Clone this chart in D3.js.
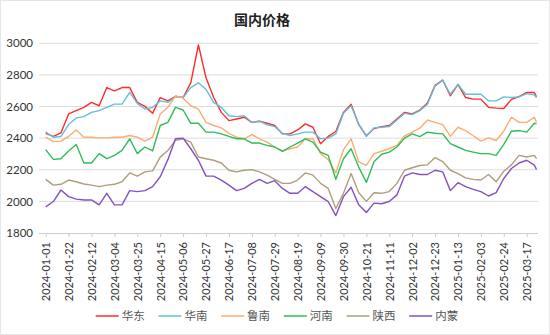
<!DOCTYPE html>
<html>
<head>
<meta charset="utf-8">
<script src="https://cdn.jsdelivr.net/npm/d3@7/dist/d3.min.js"></script>
<style>
  html, body { margin: 0; padding: 0; background: #fff; }
  svg { display: block; }
</style>
</head>
<body>
<svg id="chart" width="550" height="335"></svg>
<script>
// Weekly price observations (元/吨), first week starting 2024-01-01, last point 2025-03-26
const startDate = "2024-01-01";
const lastDate = "2025-03-26";
const weekCount = 65;

const seriesNames = ["华东", "华南", "鲁南", "河南", "陕西", "内蒙"];
const seriesColors = ["#ff2b2b", "#62bfdc", "#fbac74", "#2ebd59", "#ae9e7c", "#8450c4"];

const huadong = [2430, 2411, 2434, 2553, 2574, 2595, 2626, 2605, 2720, 2699, 2720, 2720, 2626, 2601, 2557, 2657, 2636,
  2664, 2657, 2750, 2990, 2782, 2657, 2563, 2511, 2521, 2532, 2500, 2507, 2494, 2480, 2427,
  2427, 2452, 2490, 2469, 2365, 2411, 2442, 2563, 2615, 2486, 2415, 2461, 2473, 2480, 2521, 2563, 2553,
  2578, 2622, 2734, 2768, 2668, 2740, 2657, 2647, 2647, 2595, 2590, 2588, 2645, 2663, 2689, 2689, 2661];
const huanan = [2440, 2406, 2411, 2486, 2528, 2536, 2563, 2574, 2595, 2615, 2615, 2689, 2620, 2584, 2595, 2636, 2626,
  2661, 2657, 2720, 2750, 2709, 2626, 2595, 2542, 2536, 2542, 2500, 2507, 2484, 2473, 2431,
  2417, 2427, 2438, 2438, 2396, 2400, 2427, 2557, 2605, 2490, 2411, 2465, 2469, 2473, 2515, 2557, 2549,
  2574, 2615, 2730, 2765, 2678, 2740, 2678, 2678, 2678, 2636, 2636, 2661, 2657, 2661, 2682, 2674, 2657];
const lunan = [2406, 2378, 2381, 2411, 2452, 2406, 2406, 2402, 2402, 2406, 2406, 2417, 2406, 2381, 2406, 2553, 2595,
  2668, 2653, 2605, 2584, 2500, 2480, 2465, 2431, 2406, 2396, 2423, 2396, 2375, 2344, 2319,
  2333, 2344, 2396, 2396, 2302, 2264, 2180, 2327, 2396, 2250, 2228, 2302, 2317, 2333, 2354, 2415, 2438,
  2463, 2515, 2500, 2486, 2411, 2469, 2448, 2415, 2381, 2402, 2385, 2444, 2532, 2500, 2500, 2532, 2500];
const henan = [2327, 2266, 2270, 2319, 2360, 2243, 2243, 2302, 2270, 2291, 2323, 2396, 2302, 2344, 2319, 2480, 2500,
  2595, 2578, 2494, 2494, 2438, 2438, 2427, 2411, 2396, 2396, 2369, 2369, 2354, 2344, 2317,
  2344, 2369, 2396, 2375, 2312, 2291, 2140, 2270, 2333, 2217, 2120, 2250, 2298, 2312, 2344, 2400, 2427,
  2410, 2438, 2431, 2427, 2365, 2344, 2323, 2312, 2302, 2302, 2291, 2360, 2444, 2448, 2438, 2494, 2490];
const shaanxi = [2139, 2103, 2108, 2135, 2124, 2110, 2103, 2093, 2103, 2108, 2124, 2180, 2160, 2187, 2193, 2280, 2322,
  2386, 2396, 2375, 2281, 2270, 2260, 2243, 2197, 2187, 2197, 2201, 2187, 2166, 2139, 2114,
  2114, 2135, 2180, 2166, 2114, 2082, 1955, 2051, 2176, 2055, 2000, 2055, 2051, 2062, 2114, 2197, 2213,
  2227, 2231, 2277, 2252, 2197, 2176, 2149, 2139, 2135, 2170, 2124, 2191, 2231, 2291, 2281, 2291, 2270];
const neimeng = [1965, 1999, 2072, 2030, 2014, 2009, 2009, 1978, 2051, 1978, 1978, 2068, 2062, 2068, 2093, 2156, 2264,
  2396, 2400, 2333, 2260, 2160, 2160, 2135, 2103, 2068, 2082, 2114, 2139, 2114, 2131, 2082,
  2051, 2051, 2093, 2062, 2030, 1999, 1910, 2030, 2089, 1978, 1930, 1989, 1985, 1999, 2041, 2160, 2180,
  2170, 2170, 2197, 2187, 2068, 2118, 2093, 2076, 2062, 2034, 2055, 2145, 2208, 2243, 2260, 2229, 2202];

const yTicks = [1800, 2000, 2200, 2400, 2600, 2800, 3000];
const xTickLabels = ["2024-01-01", "2024-01-22", "2024-02-12", "2024-03-04", "2024-03-25", "2024-04-15",
  "2024-05-06", "2024-05-27", "2024-06-17", "2024-07-08", "2024-07-29", "2024-08-19", "2024-09-09",
  "2024-09-30", "2024-10-21", "2024-11-11", "2024-12-02", "2024-12-23", "2025-01-13", "2025-02-03",
  "2025-02-24", "2025-03-17"];

const parse = d3.utcParse("%Y-%m-%d");
const fmt = d3.utcFormat("%Y-%m-%d");
const start = parse(startDate);
const dates = d3.range(weekCount).map(k => d3.utcDay.offset(start, 7 * k)).concat([parse(lastDate)]);
const allSeries = [huadong, huanan, lunan, henan, shaanxi, neimeng];

const svg = d3.select("#chart");
const W = 550, H = 335;

// outer frame
svg.append("rect").attr("x", 0.5).attr("y", 0.5).attr("width", W - 1).attr("height", H - 1)
  .attr("fill", "#fff").attr("stroke", "#e6e6e6");

const x = d3.scaleUtc()
  .domain([parse(xTickLabels[0]), parse(xTickLabels[xTickLabels.length - 1])])
  .range([45.7, 526.7]);
const y = d3.scaleLinear().domain([1800, 3000]).range([233, 43.3]);
const plotLeft = 39, plotRight = 538;

// title
svg.append("text").attr("x", 262).attr("y", 25).attr("text-anchor", "middle")
  .attr("font-family", "'Noto Sans CJK SC', sans-serif").attr("font-size", 14).attr("font-weight", "bold")
  .attr("fill", "#222").text("国内价格");

// horizontal grid
svg.append("g").selectAll("line").data(yTicks.filter(v => v > 1800)).join("line")
  .attr("x1", plotLeft).attr("x2", plotRight)
  .attr("y1", d => y(d)).attr("y2", d => y(d))
  .attr("stroke", "#dcdcdc").attr("stroke-width", 1);

// y axis labels
const yAxis = d3.axisLeft(y).tickValues(yTicks).tickFormat(d3.format("d")).tickSize(0).tickPadding(6);
const gy = svg.append("g").attr("transform", `translate(${plotLeft},0)`).call(yAxis);
gy.select(".domain").remove();
gy.selectAll("text").attr("font-family", "Lato, sans-serif").attr("font-size", 11.5).attr("fill", "#333");

// x axis
const xAxis = d3.axisBottom(x).tickValues(xTickLabels.map(parse)).tickFormat(fmt).tickSize(4).tickSizeOuter(0);
const gx = svg.append("g").attr("transform", `translate(0,${y(1800)})`).call(xAxis);
gx.select(".domain").attr("d", `M${plotLeft},0.5H${plotRight}`).attr("stroke", "#ccc");
gx.selectAll(".tick line").attr("stroke", "#ccc");
gx.selectAll("text")
  .attr("font-family", "Lato, sans-serif").attr("font-size", 11).attr("fill", "#333")
  .attr("transform", "rotate(-90)")
  .attr("text-anchor", "end")
  .attr("dy", "0.35em")
  .attr("x", -9).attr("y", 0);

// series lines
const line = d3.line().x((d, i) => x(dates[i])).y(d => y(d));
svg.append("g").selectAll("path").data(allSeries).join("path")
  .attr("d", d => line(d))
  .attr("fill", "none")
  .attr("stroke", (d, i) => seriesColors[i])
  .attr("stroke-width", 1.4)
  .attr("stroke-linejoin", "round");

// legend
const legend = svg.append("g").attr("transform", "translate(95.7,316)");
const item = legend.selectAll("g").data(seriesNames).join("g")
  .attr("transform", (d, i) => `translate(${i * 62.7},0)`);
item.append("line").attr("x1", 0).attr("x2", 23).attr("y1", 0).attr("y2", 0)
  .attr("stroke", (d, i) => seriesColors[i]).attr("stroke-width", 1.5);
item.append("text").attr("x", 26).attr("y", 0).attr("dy", "0.36em")
  .attr("font-family", "'Noto Sans CJK SC', sans-serif").attr("font-size", 11.5).attr("fill", "#555")
  .text(d => d);
</script>
</body>
</html>
